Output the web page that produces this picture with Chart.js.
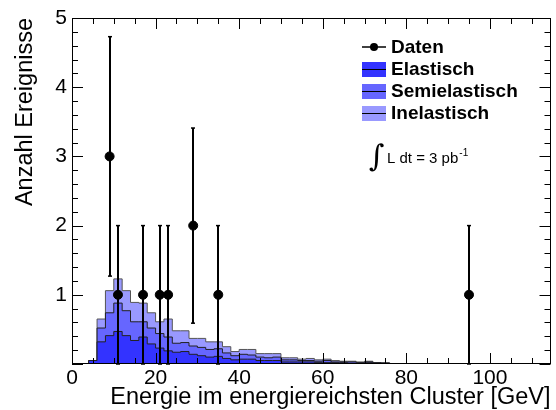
<!DOCTYPE html>
<html>
<head>
<meta charset="utf-8">
<script src="https://cdn.jsdelivr.net/npm/chart.js@4/dist/chart.umd.min.js"></script>
<style>
  body { margin: 0; background: #fff; }
  canvas { display: block; }
</style>
</head>
<body>
<canvas id="chart" width="556" height="410"></canvas>
<script>
// bin low edges [GeV], 2 GeV wide
const binLow = [4, 6, 8, 10, 12, 14, 16, 18, 20, 22, 24, 26, 28, 30, 32, 34, 36, 38,
                40, 42, 44, 46, 48, 50, 52, 54, 56, 58, 60, 62, 64, 66, 68, 70, 72, 74];
const binWidth = 2;

const elastisch = [0.05, 0.32, 0.41, 0.47, 0.41, 0.34, 0.39, 0.29, 0.23, 0.19, 0.17, 0.18,
                   0.14, 0.12, 0.10, 0.11, 0.08, 0.06, 0.07, 0.07, 0.05, 0.05, 0.05, 0.03,
                   0.03, 0.03, 0.03, 0.02, 0.02, 0.02, 0.02, 0.01, 0.01, 0.02, 0.01, 0.01];
const semielastisch = [0, 0.20, 0.33, 0.41, 0.36, 0.27, 0.22, 0.23, 0.21, 0.20, 0.13, 0.13,
                       0.12, 0.12, 0.11, 0.11, 0.08, 0.06, 0.07, 0.06, 0.05, 0.04, 0.05, 0.03,
                       0.03, 0.02, 0.02, 0.02, 0.03, 0.01, 0.01, 0.02, 0.01, 0.01, 0.01, 0];
const inelastisch = [0, 0.13, 0.32, 0.35, 0.29, 0.28, 0.27, 0.22, 0.17, 0.26, 0.18, 0.17,
                     0.11, 0.13, 0.11, 0.10, 0.09, 0.06, 0.07, 0.08, 0.05, 0.06, 0.05, 0.03,
                     0.03, 0.02, 0.03, 0.02, 0.02, 0.02, 0.01, 0.01, 0.01, 0.01, 0, 0.01];

// measured events
const datenE = [9, 11, 17, 21, 23, 29, 35, 95];
const datenN = [3, 1, 1, 1, 1, 2, 1, 1];
const datenErr = [1.73, 1, 1, 1, 1, 1.41, 1, 1];

const xTicks = [0, 20, 40, 60, 80, 100];
const yTicks = [1, 2, 3, 4, 5];

const colEl = "#3333ff";
const colSemi = "#6666ff";
const colInel = "#9999ff";
const font = "'Liberation Sans', Arial, sans-serif";

// histogram outline: horizontal at each bin value, vertical at the edges
function stepPoints(vals) {
    const pts = [{ x: binLow[0], y: 0 }];
    vals.forEach((v, i) => {
        pts.push({ x: binLow[i], y: v });
    });
    pts.push({ x: binLow[binLow.length - 1] + binWidth, y: vals[vals.length - 1] });
    pts.push({ x: binLow[binLow.length - 1] + binWidth, y: 0 });
    return pts;
}

const sumEl = elastisch.slice();
const sumSemi = elastisch.map((v, i) => v + semielastisch[i]);
const sumAll = sumSemi.map((v, i) => v + inelastisch[i]);

function histSet(vals, color, border) {
    return {
        type: "line",
        data: stepPoints(vals),
        stepped: "before",
        fill: "origin",
        backgroundColor: color,
        borderColor: border,
        borderWidth: 1,
        pointRadius: 0
    };
}

const frameTicks = {
    id: "frameTicks",
    afterDatasetsDraw(chart) {
        const { ctx, chartArea: a, scales: { x, y } } = chart;
        ctx.save();
        ctx.strokeStyle = "#000";
        ctx.lineWidth = 1;
        const line = (x1, y1, x2, y2) => { ctx.beginPath(); ctx.moveTo(x1, y1); ctx.lineTo(x2, y2); ctx.stroke(); };
        for (let v = 0; v <= x.max; v += 5) {
            const px = Math.round(x.getPixelForValue(v)) + 0.5;
            const len = v % 20 === 0 ? 11 : 6;
            line(px, a.bottom, px, a.bottom - len);
            line(px, a.top, px, a.top + len);
        }
        for (let i = 0; i <= 25; i++) {
            const py = Math.round(y.getPixelForValue(i * 0.2)) + 0.5;
            const len = i % 5 === 0 ? 11 : 6;
            line(a.left, py, a.left + len, py);
            line(a.right, py, a.right - len, py);
        }
        ctx.strokeRect(Math.round(a.left) + 0.5, Math.round(a.top) + 0.5,
                       Math.round(a.right - a.left) - 1, Math.round(a.bottom - a.top) - 1);

        // error bars
        datenE.forEach((e, i) => {
            const px = Math.round(x.getPixelForValue(e));
            const top = y.getPixelForValue(datenN[i] + datenErr[i]);
            const bot = y.getPixelForValue(Math.max(0, datenN[i] - datenErr[i]));
            ctx.lineWidth = 2;
            line(px, top, px, bot);
            ctx.lineWidth = 1.5;
            line(px - 2, top, px + 2, top);
            line(px - 2, bot, px + 2, bot);
        });

        // legend
        ctx.fillStyle = "#000";
        ctx.lineWidth = 1.5;
        line(362, 47, 386, 47);
        ctx.beginPath();
        ctx.arc(374, 47, 4, 0, Math.PI * 2);
        ctx.fill();
        const rows = [["Elastisch", colEl], ["Semielastisch", colSemi], ["Inelastisch", colInel]];
        ctx.lineWidth = 1;
        rows.forEach(([label, c], i) => {
            const yc = 69.5 + i * 22;
            ctx.fillStyle = c;
            ctx.fillRect(362, yc - 7.5, 24, 15);
            line(362, yc, 386, yc);
        });
        ctx.fillStyle = "#000";
        ctx.textBaseline = "middle";
        ctx.textAlign = "left";
        ctx.font = "bold 19px " + font;
        ctx.fillText("Daten", 391, 48);
        rows.forEach(([label], i) => ctx.fillText(label, 391, 70 + i * 22));

        // luminosity
        ctx.font = "30px 'DejaVu Serif', serif";
        ctx.fillText("\u222B", 369, 158);
        ctx.font = "15px " + font;
        const lum = "L dt = 3 pb";
        ctx.fillText(lum, 387, 159);
        const w = ctx.measureText(lum).width;
        ctx.font = "10px " + font;
        ctx.fillText("-1", 387 + w + 1, 153);
        ctx.restore();
    }
};

new Chart(document.getElementById("chart"), {
    type: "scatter",
    data: {
        datasets: [
            {
                type: "scatter",
                data: datenE.map((e, i) => ({ x: e, y: datenN[i] })),
                backgroundColor: "#000",
                borderColor: "#000",
                pointRadius: 4.5,
                order: -1
            },
            histSet(sumEl, colEl, "#222"),
            histSet(sumSemi, colSemi, "#222"),
            histSet(sumAll, colInel, "#555")
        ]
    },
    options: {
        responsive: false,
        animation: false,
        layout: { padding: { top: 18, right: 2, left: 0, bottom: 0 } },
        plugins: { legend: { display: false }, tooltip: { enabled: false } },
        scales: {
            x: {
                type: "linear",
                min: 0,
                max: 114.5,
                afterFit: s => { s.height = 46; },
                afterBuildTicks: s => { s.ticks = xTicks.map(v => ({ value: v })); },
                grid: { display: false, drawTicks: false },
                border: { display: false },
                ticks: { color: "#000", font: { family: font, size: 21 }, padding: 2, maxRotation: 0 },
                title: {
                    display: true,
                    text: "Energie im energiereichsten Cluster [GeV]",
                    align: "end",
                    color: "#000",
                    font: { family: font, size: 23.5 },
                    padding: { top: 0, bottom: -2 }
                }
            },
            y: {
                min: 0,
                max: 5,
                afterFit: s => { s.width = 72; },
                afterBuildTicks: s => { s.ticks = yTicks.map(v => ({ value: v })); },
                grid: { display: false, drawTicks: false },
                border: { display: false },
                ticks: { color: "#000", font: { family: font, size: 21 }, padding: 5 },
                title: {
                    display: true,
                    text: "Anzahl Ereignisse",
                    align: "end",
                    color: "#000",
                    font: { family: font, size: 23.5 },
                    padding: { top: 11, bottom: 0 }
                }
            }
        }
    },
    plugins: [frameTicks]
});
</script>
</body>
</html>
